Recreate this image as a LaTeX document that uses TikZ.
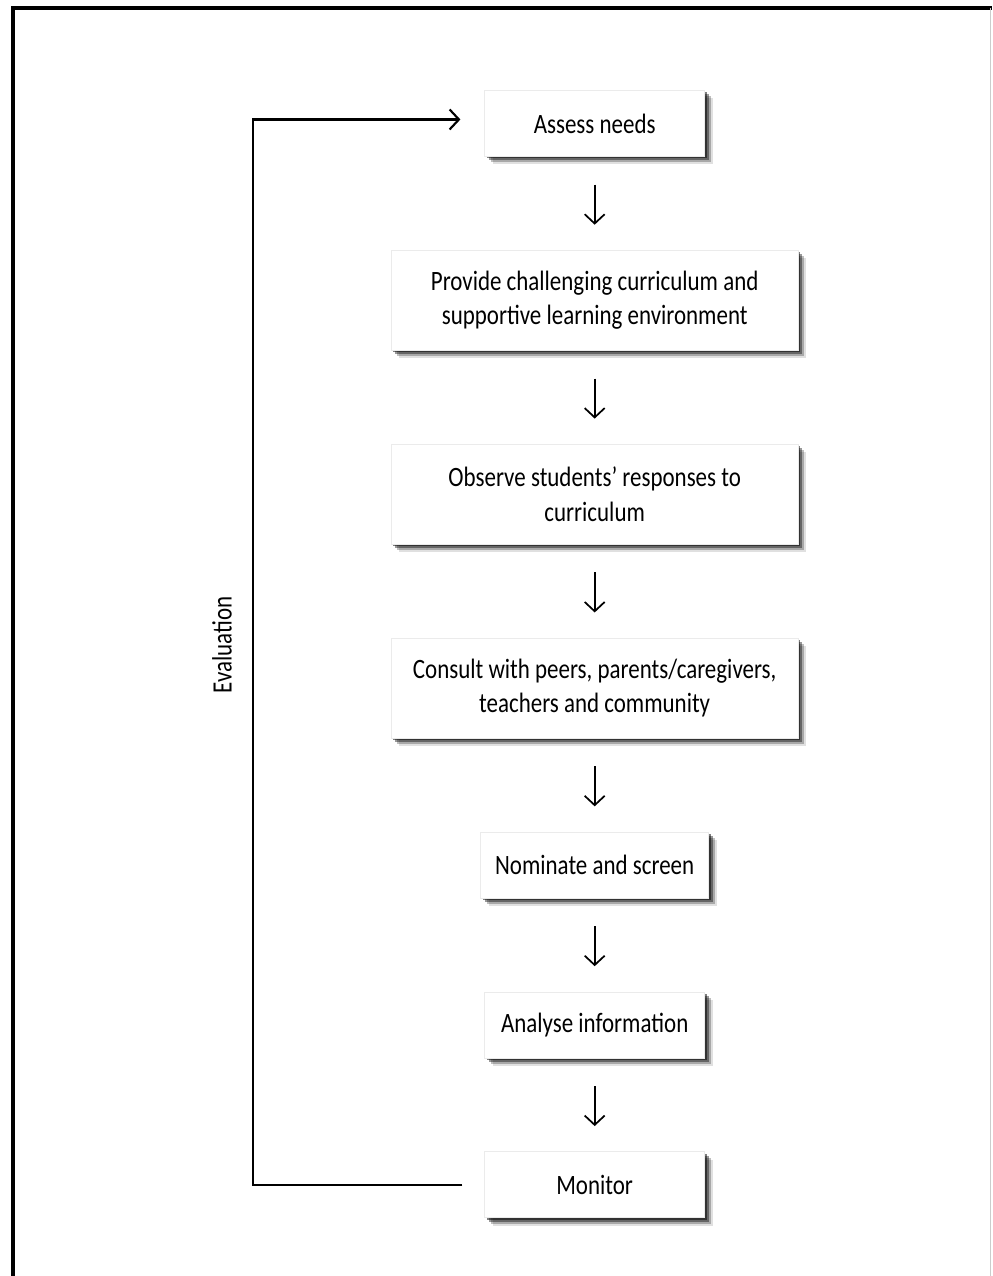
\documentclass[tikz,border=0pt]{standalone}
\usepackage{fontspec}
\setmainfont{Carlito}[FakeStretch=0.82]
\usepackage{tikz}
\usetikzlibrary{arrows.meta,shadows}
\usetikzlibrary{positioning}
\tikzset{
    stage/.style={
           rectangle,
           fill=white,
           draw=black!8, thin,
           inner sep=2pt,
           align=center,
           font=\fontsize{21}{26}\selectfont,
           drop shadow={shadow xshift=6pt, shadow yshift=-6pt, opacity=.12, fill=black},
           drop shadow={shadow xshift=4.5pt, shadow yshift=-4.5pt, opacity=.25, fill=black},
           drop shadow={shadow xshift=3pt, shadow yshift=-3pt, opacity=.4, fill=black},
           drop shadow={shadow xshift=1.5pt, shadow yshift=-1.5pt, opacity=.5, fill=black},
           },
    small/.style={minimum width=165pt, minimum height=49.5pt},
    wide/.style={minimum width=305pt, minimum height=75pt},
    flow/.style={->, line width=1.3pt, shorten <=21pt, shorten >=19pt},
    loopline/.style={->, line width=1.6pt, shorten <=16.5pt, shorten >=18pt},
}

\begin{document}
\begin{tikzpicture}[>={Straight Barb[length=7pt,width=15pt]}]
 % page and frame
 \useasboundingbox (0pt,0pt) rectangle (744pt,-957pt);
 \draw[line width=2.4pt] (9.75pt,-957pt) |- (744pt,-6pt);
 \draw[black!20, line width=1pt] (743pt,-6pt) -- (743pt,-957pt);

 \node[stage, small] (Assess) at (446pt,-92.6pt)
 {Assess needs};

 \node[stage, wide,
  below=70pt of Assess] (Provide)
 {Provide challenging curriculum and\\supportive learning environment};

 \node[stage, wide,
  below=70pt of Provide] (Observe)
 {Observe students' responses to\\curriculum};

 \node[stage, wide,
  below=70pt of Observe] (Consult)
 {Consult with peers, parents/caregivers,\\teachers and community};

 \node[stage, small,
  minimum width=171pt,
  below=70pt of Consult] (Nominate)
 {Nominate and screen};

 \node[stage, small,
  below=70pt of Nominate] (Analyse)
 {Analyse information};

 \node[stage, small,
  below=70pt of Analyse] (Monitor)
 {Monitor};

 % the way down
 \draw[flow] (Assess) -- (Provide);
 \draw[flow] (Provide) -- (Observe);
 \draw[flow] (Observe) -- (Consult);
 \draw[flow] (Consult) -- (Nominate);
 \draw[flow] (Nominate) -- (Analyse);
 \draw[flow] (Analyse) -- (Monitor);

 % the way back
 \coordinate (back) at (190pt,-500pt);
 \draw[loopline] (Monitor.west) -- (Monitor.west -| back) |- ([yshift=3pt]Assess.west);

 \node[rotate=90, font=\fontsize{21}{26}\selectfont] (Evaluation) at (166.5pt,-483.75pt)
 {Evaluation};

\end{tikzpicture}
\end{document}
